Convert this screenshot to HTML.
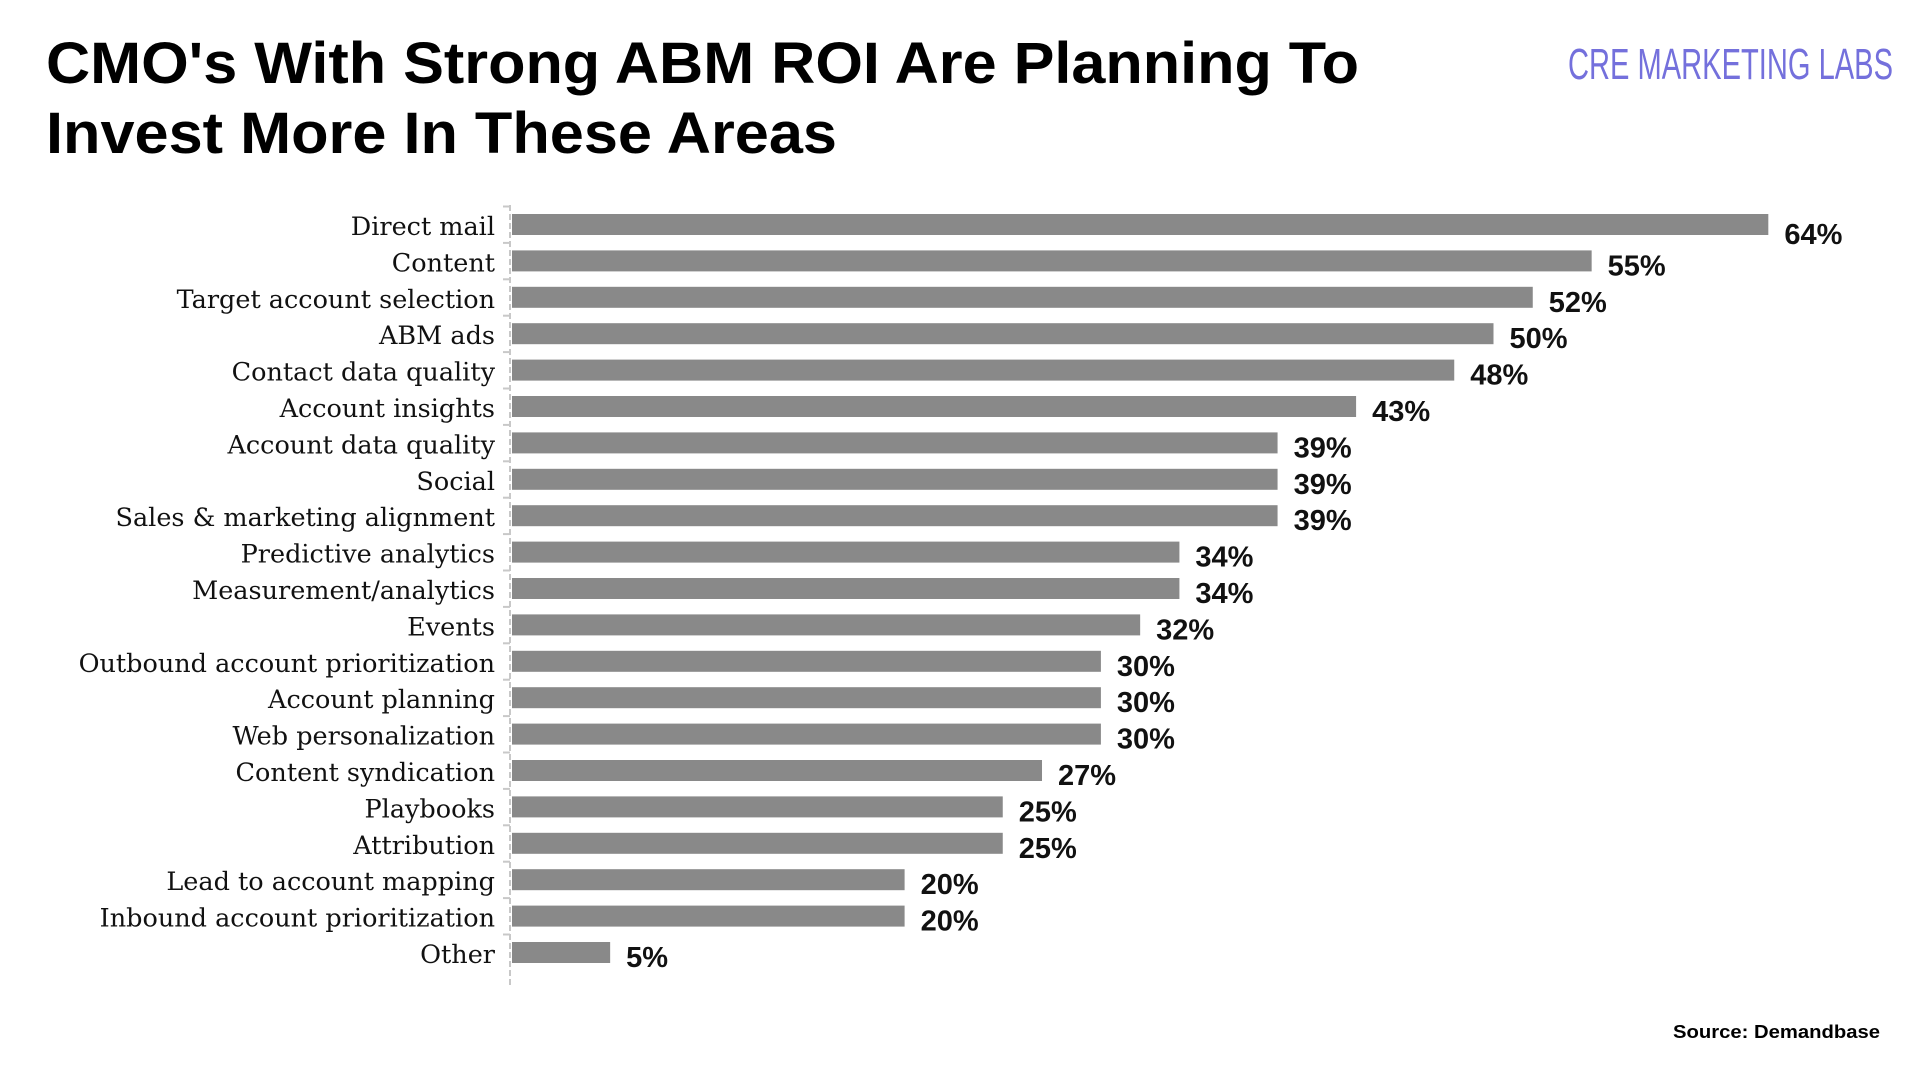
<!DOCTYPE html>
<html><head><meta charset="utf-8"><style>
html,body{margin:0;padding:0;background:#fff;}
svg{display:block;}
</style></head><body>
<svg id="chart" width="1920" height="1080" viewBox="0 0 1920 1080" xmlns="http://www.w3.org/2000/svg">
<text x="46" y="83" font-family="Liberation Sans, sans-serif" font-weight="bold" font-size="58" textLength="1313" lengthAdjust="spacingAndGlyphs" fill="#000">CMO's With Strong ABM ROI Are Planning To</text>
<text x="46" y="153" font-family="Liberation Sans, sans-serif" font-weight="bold" font-size="58" textLength="791" lengthAdjust="spacingAndGlyphs" fill="#000">Invest More In These Areas</text>
<text x="1568" y="79" font-family="Liberation Sans Narrow, Liberation Sans, sans-serif" font-size="44" textLength="325" lengthAdjust="spacingAndGlyphs" fill="#7470dc">CRE MARKETING LABS</text>
<text x="1673" y="1038" font-family="Liberation Sans, sans-serif" font-weight="bold" font-size="18" textLength="207" lengthAdjust="spacingAndGlyphs" fill="#000">Source: Demandbase</text>
<line x1="510" y1="205" x2="510" y2="985" stroke="#c8c8c8" stroke-width="2" stroke-dasharray="6,3"/>
<g id="bars"></g>
</svg>
<script>
const categories = ["Direct mail","Content","Target account selection","ABM ads","Contact data quality","Account insights","Account data quality","Social","Sales & marketing alignment","Predictive analytics","Measurement/analytics","Events","Outbound account prioritization","Account planning","Web personalization","Content syndication","Playbooks","Attribution","Lead to account mapping","Inbound account prioritization","Other"];
const values = [64,55,52,50,48,43,39,39,39,34,34,32,30,30,30,27,25,25,20,20,5];
const valueLabels = ["64%","55%","52%","50%","48%","43%","39%","39%","39%","34%","34%","32%","30%","30%","30%","27%","25%","25%","20%","20%","5%"];

const NS = "http://www.w3.org/2000/svg";
const x0 = 512, pxPerPct = 19.63;
const y0 = 214, pitch = 36.4, barH = 21;
function xScale(v){ return x0 + v * pxPerPct; }
function yScale(i){ return y0 + i * pitch; }
const g = document.getElementById('bars');
function mk(tag, attrs){ const e = document.createElementNS(NS, tag); for (const k in attrs) e.setAttribute(k, attrs[k]); return e; }
categories.forEach((c, i) => {
  const y = yScale(i);
  const tick = mk('line', {x1: 503, x2: 510, y1: y - 7.5, y2: y - 7.5, stroke: '#c8c8c8', 'stroke-width': 2});
  
  
  g.appendChild(tick);
  const r = mk('rect', {x: x0, y: y, width: xScale(values[i]) - x0, height: barH, fill: '#898989'});
  
  
  g.appendChild(r);
  const t = mk('text', {x: 495, y: y + barH, 'text-anchor': 'end', 'font-family': 'DejaVu Serif, Liberation Serif, serif', 'font-size': 25.5, fill: '#111'});
  t.textContent = c;
  
  
  g.appendChild(t);
  const v = mk('text', {x: xScale(values[i]) + 16, y: y + barH + (i === 0 ? 9 : 4), 'font-family': 'Liberation Sans, sans-serif', 'font-weight': 'bold', 'font-size': 29, fill: '#111'});
  v.textContent = valueLabels[i];
  
  
  g.appendChild(v);
});
</script>
</body></html>
